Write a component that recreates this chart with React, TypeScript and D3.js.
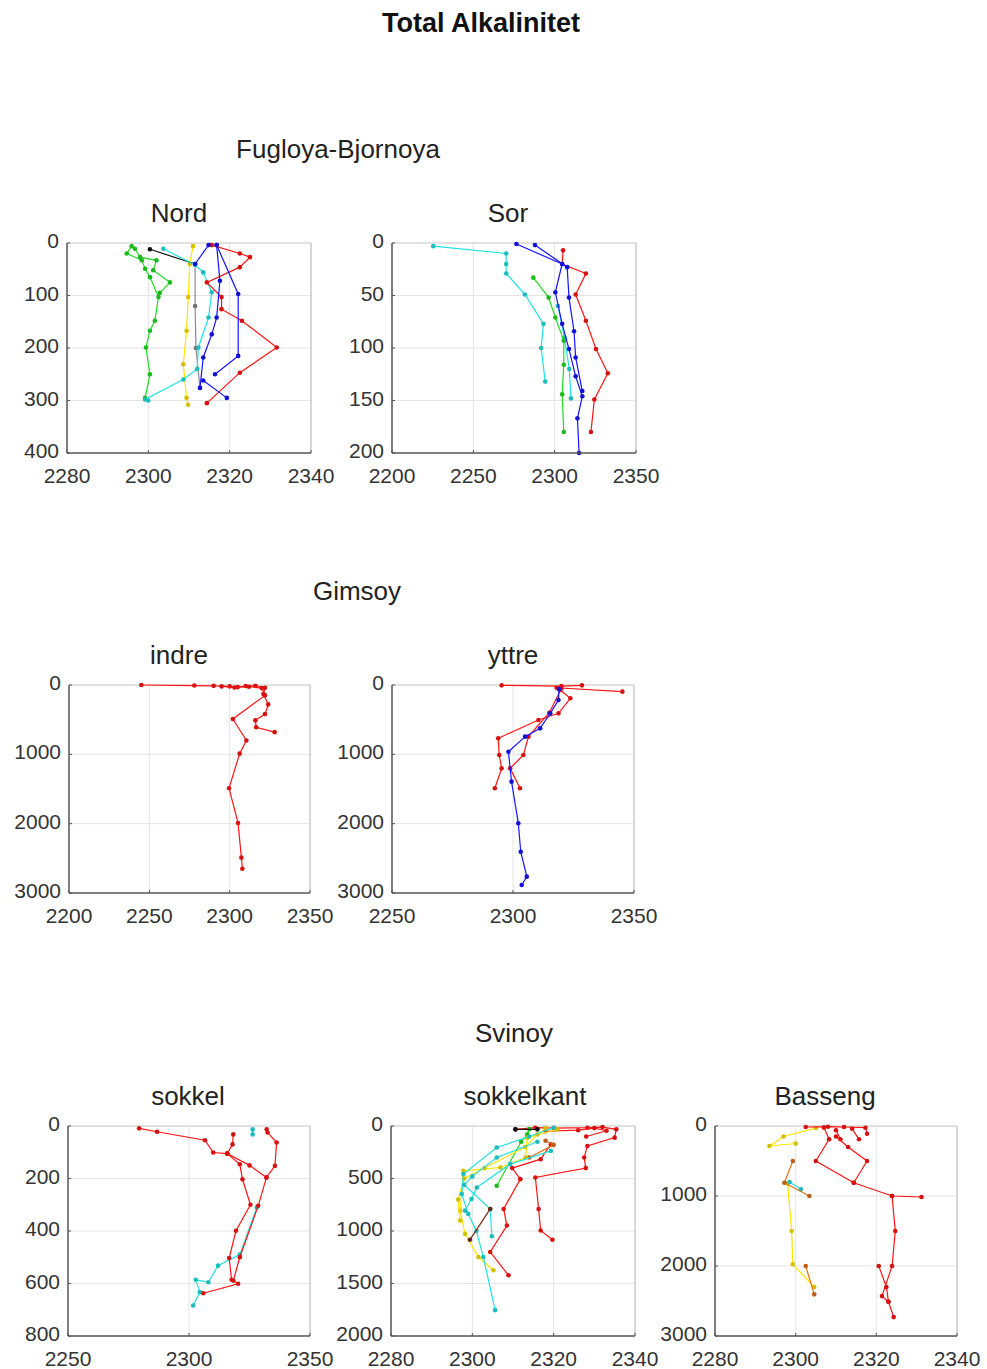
import React from 'react';
import * as d3 from 'd3';

// ---------- data: [alkalinity, depth] ----------
type P = [number, number];

// Fugloya-Bjornoya / Nord
const nordGreen1: P[] = [[2295.9,6],[2294.7,20],[2298.4,33],[2299.2,49],[2300.4,65],[2302.5,103],[2301.6,148],[2300.4,167],[2299.4,199],[2300.4,250],[2299.2,295]];
const nordGreen2: P[] = [[2296.7,11],[2298,27],[2302,33],[2301.2,52],[2305.3,75],[2302.8,95]];
const nordBlack: P[] = [[2300.4,12],[2311.5,40]];
const nordGray: P[] = [[2311.5,40],[2311.5,120],[2311.7,200],[2312.7,276]];
const nordCyan: P[] = [[2303.7,11],[2311.5,42],[2313.5,56],[2315.6,94],[2314.8,142],[2312.3,199],[2312,240],[2308.6,260],[2299.2,298],[2300,300]];
const nordYellow: P[] = [[2311,6],[2310.2,40],[2309.8,103],[2309.4,167],[2308.6,231],[2309.4,295],[2309.8,308]];
const nordBlue1: P[] = [[2314.8,4],[2311.5,40]];
const nordBlue2: P[] = [[2316.8,4],[2317.6,72],[2316.8,142],[2315.6,174],[2313.5,218],[2312.7,276]];
const nordBlue3: P[] = [[2316.8,4],[2322.1,97],[2322.1,215],[2316.4,250]];
const nordBlue4: P[] = [[2313.5,262],[2319.3,295]];
const nordRed: P[] = [[2315.6,4],[2322.5,20],[2325,27],[2322.5,46],[2314.4,75],[2318,103],[2318,126],[2323,148],[2331.6,199],[2322.5,247],[2314.4,305]];

// Fugloya-Bjornoya / Sor
const sorCyan1: P[] = [[2225.4,3],[2270.2,10],[2270.2,20],[2270.2,29],[2281.7,49],[2293.1,77],[2291.7,100],[2294.2,132]];
const sorCyan2: P[] = [[2302,60],[2306,90],[2309,120],[2310,148]];
const sorGreen: P[] = [[2286.9,33],[2296.3,52],[2300.4,71],[2305.6,93],[2305.6,116],[2304.6,144],[2305.6,180]];
const sorBlue1: P[] = [[2276.5,1],[2304.6,20],[2300.4,47],[2304.6,77],[2308.8,101],[2312.9,127],[2317,146],[2314,167],[2315,200]];
const sorBlue2: P[] = [[2287.9,2],[2307.7,23],[2308.8,52],[2311.9,84],[2312.9,109],[2317,141]];
const sorRed: P[] = [[2305.2,7],[2304.6,20],[2319.2,29],[2312.9,49],[2319.2,74],[2325.4,101],[2332.7,124],[2324.4,149],[2322.3,180]];

// Gimsoy / indre
const indreRed1: P[] = [[2245,0],[2278,8],[2290,12],[2300,20],[2305,30],[2310,15],[2316,10],[2322,40],[2321,130],[2324,280],[2322,420],[2316,510],[2316.5,610],[2328,680]];
const indreRed2: P[] = [[2295,20],[2303,35],[2312,25],[2320,45],[2322,150],[2302,490],[2310.4,800],[2306.2,990],[2299.6,1490],[2305.2,1990],[2307.3,2490],[2307.9,2650]];

// Gimsoy / yttre
const yttreRed1: P[] = [[2295.3,5],[2320,15],[2328.5,5]];
const yttreRed2: P[] = [[2318,40],[2345.2,96]];
const yttreRed3: P[] = [[2319.5,72],[2323.7,192],[2318.8,409],[2310.5,505],[2293.9,769],[2294.3,1010],[2295.3,1202],[2292.5,1490]];
const yttreRed4: P[] = [[2320,50],[2315,400],[2306.4,745],[2304.3,1010],[2298.8,1202],[2302.9,1490]];
const yttreBlue: P[] = [[2319,60],[2318.8,216],[2315.4,409],[2311.2,625],[2305,745],[2298.1,962],[2299.4,1394],[2302.2,1995],[2303.2,2404],[2305.7,2764],[2303.6,2885]];

// Svinoy / sokkel
const sokkelRed1: P[] = [[2279.4,9],[2286.8,22],[2306.6,54],[2310,101],[2315.8,105],[2321,146],[2322.1,203],[2325.4,300],[2319.4,399],[2316.6,503],[2317.6,586],[2320.3,601],[2305.9,637]];
const sokkelRed2: P[] = [[2318.3,32],[2318,70],[2315.8,105]];
const sokkelRed3: P[] = [[2332.1,13],[2332.5,25],[2336.2,63],[2335.5,152],[2332,196],[2328.6,304],[2321,500],[2318.3,589]];
const sokkelRed4: P[] = [[2315.8,105],[2325,150],[2332,196]];
const sokkelCyan1: P[] = [[2326.3,13],[2326.3,32]];
const sokkelCyan2: P[] = [[2328,310],[2321,490],[2312,532],[2308,595],[2302.8,586],[2304.5,633],[2301.7,684]];

// Svinoy / sokkelkant
const kantRed1: P[] = [[2310.6,32],[2315.5,16],[2320,20],[2328.3,16],[2332,10],[2335.4,32],[2335,111],[2328.3,190],[2327.5,300],[2327.9,401],[2315.5,490],[2316.3,790],[2316.8,995],[2319.7,1084]];
const kantRed2: P[] = [[2319.3,174],[2316.8,316],[2309.8,401],[2311.8,506],[2307.7,790],[2308.5,948],[2304.4,1200],[2308.9,1422]];
const kantRed3: P[] = [[2318,50],[2326,40],[2330,20],[2333,45],[2328,100]];
const kantCyan1: P[] = [[2320,16],[2314,100],[2306,205],[2297.8,458],[2297.4,648],[2299,837],[2301,1000],[2302.7,1248],[2305.6,1754]];
const kantCyan2: P[] = [[2319.3,237],[2309.3,363],[2301.1,585],[2299.8,695],[2298.2,806]];
const kantCyan3: P[] = [[2316,150],[2306,300],[2300,480],[2298,560],[2304.4,790],[2304.8,1050]];
const kantYellow1: P[] = [[2320.9,32],[2313.5,111],[2313.1,300],[2306.9,395],[2297.8,427],[2297,806],[2298.2,1027],[2301.5,1248],[2305.2,1374]];
const kantYellow2: P[] = [[2318,20],[2316,80],[2313,200],[2303,400],[2298,500],[2296.5,700],[2297,900]];
const kantGreen: P[] = [[2314,30],[2313.5,80],[2312,150],[2306,569]];
const kantBlack: P[] = [[2310.6,32],[2316,32]];
const kantOrange: P[] = [[2318,140],[2320,180],[2314,300]];
const kantDark: P[] = [[2299.4,1084],[2304.4,790]];

// Svinoy / Basseng
const basRed1: P[] = [[2302.5,14],[2308,10],[2312,14],[2317.3,24],[2317.7,110]];
const basRed2: P[] = [[2307,20],[2308.3,190],[2305,500],[2314.4,810],[2323.9,1000],[2331.2,1014]];
const basRed3: P[] = [[2310,60],[2311.1,190]];
const basRed4: P[] = [[2314,40],[2315.7,190]];
const basRedLoop: P[] = [[2314.4,810],[2317.7,500],[2313,300],[2310,150]];
const basRed5: P[] = [[2323.9,1000],[2324.7,1500],[2323.9,2000],[2321.4,2430],[2323,2510],[2324.3,2730]];
const basRed6: P[] = [[2320.6,2000],[2322.5,2300],[2323,2510]];
const basOrange1: P[] = [[2299.3,500],[2297.2,810],[2303.4,1000]];
const basOrange2: P[] = [[2302.5,2000],[2304.6,2405]];
const basYellow1: P[] = [[2305,30],[2297,150],[2293.5,286],[2300,250]];
const basYellow2: P[] = [[2298,820],[2299,1500],[2299.3,1976],[2304.6,2300]];
const basCyan: P[] = [[2298.5,800],[2301.3,905]];

// axis ticks
const ticks2280 = [2280, 2300, 2320, 2340];
const ticks2200 = [2200, 2250, 2300, 2350];
const ticks2250 = [2250, 2300, 2350];
const depth400 = [0, 100, 200, 300, 400];
const depth200 = [0, 50, 100, 150, 200];
const depth3000 = [0, 1000, 2000, 3000];
const depth800 = [0, 200, 400, 600, 800];
const depth2000 = [0, 500, 1000, 1500, 2000];

// ---------- styles ----------
const FONT = '"Liberation Sans", Arial, Helvetica, sans-serif';
const COL: Record<string, string> = {
  r: '#ff1414', b: '#1414ff', g: '#22dd22', c: '#22e2e2', y: '#ffe600',
  k: '#111111', gray: '#8a8a8a', o: '#e0701c', d: '#7a2a10',
};

type S = { c: string; d: P[] };
type Panel = {
  title: string; titleX: number; left: number; right: number; top: number; bottom: number;
  xTicks: number[]; yTicks: number[]; series: S[];
};

const panels: Panel[] = [
  { title: 'Nord', titleX: 179, left: 67, right: 311, top: 243, bottom: 453, xTicks: ticks2280, yTicks: depth400,
    series: [
      { c: 'g', d: nordGreen1 }, { c: 'g', d: nordGreen2 }, { c: 'y', d: nordYellow }, { c: 'gray', d: nordGray },
      { c: 'k', d: nordBlack }, { c: 'c', d: nordCyan }, { c: 'r', d: nordRed },
      { c: 'b', d: nordBlue1 }, { c: 'b', d: nordBlue2 }, { c: 'b', d: nordBlue3 }, { c: 'b', d: nordBlue4 },
    ] },
  { title: 'Sor', titleX: 508, left: 392, right: 636, top: 243, bottom: 453, xTicks: ticks2200, yTicks: depth200,
    series: [
      { c: 'c', d: sorCyan1 }, { c: 'c', d: sorCyan2 }, { c: 'g', d: sorGreen }, { c: 'r', d: sorRed },
      { c: 'b', d: sorBlue1 }, { c: 'b', d: sorBlue2 },
    ] },
  { title: 'indre', titleX: 179, left: 69, right: 310, top: 685, bottom: 893, xTicks: ticks2200, yTicks: depth3000,
    series: [{ c: 'r', d: indreRed1 }, { c: 'r', d: indreRed2 }] },
  { title: 'yttre', titleX: 513, left: 392, right: 634, top: 685, bottom: 893, xTicks: ticks2250, yTicks: depth3000,
    series: [
      { c: 'r', d: yttreRed1 }, { c: 'r', d: yttreRed2 }, { c: 'r', d: yttreRed3 }, { c: 'r', d: yttreRed4 },
      { c: 'b', d: yttreBlue },
    ] },
  { title: 'sokkel', titleX: 188, left: 68, right: 310, top: 1126, bottom: 1336, xTicks: ticks2250, yTicks: depth800,
    series: [
      { c: 'c', d: sokkelCyan1 }, { c: 'c', d: sokkelCyan2 },
      { c: 'r', d: sokkelRed1 }, { c: 'r', d: sokkelRed2 }, { c: 'r', d: sokkelRed3 }, { c: 'r', d: sokkelRed4 },
    ] },
  { title: 'sokkelkant', titleX: 525, left: 391, right: 635, top: 1126, bottom: 1336, xTicks: ticks2280, yTicks: depth2000,
    series: [
      { c: 'r', d: kantRed1 }, { c: 'r', d: kantRed2 }, { c: 'r', d: kantRed3 }, { c: 'o', d: kantOrange },
      { c: 'g', d: kantGreen }, { c: 'y', d: kantYellow1 }, { c: 'y', d: kantYellow2 },
      { c: 'c', d: kantCyan1 }, { c: 'c', d: kantCyan2 }, { c: 'c', d: kantCyan3 },
      { c: 'k', d: kantBlack }, { c: 'd', d: kantDark },
    ] },
  { title: 'Basseng', titleX: 825, left: 715, right: 957, top: 1126, bottom: 1336, xTicks: ticks2280, yTicks: depth3000,
    series: [
      { c: 'y', d: basYellow1 }, { c: 'y', d: basYellow2 }, { c: 'c', d: basCyan },
      { c: 'o', d: basOrange1 }, { c: 'o', d: basOrange2 },
      { c: 'r', d: basRed1 }, { c: 'r', d: basRed2 }, { c: 'r', d: basRed3 }, { c: 'r', d: basRed4 },
      { c: 'r', d: basRedLoop }, { c: 'r', d: basRed5 }, { c: 'r', d: basRed6 },
    ] },
];

const groupTitles = [
  { text: 'Fugloya-Bjornoya', x: 338, y: 158 },
  { text: 'Gimsoy', x: 357, y: 600 },
  { text: 'Svinoy', x: 514, y: 1042 },
];

function PanelView({ p }: { p: Panel }) {
  const x = d3.scaleLinear().domain([p.xTicks[0], p.xTicks[p.xTicks.length - 1]]).range([p.left, p.right]);
  const y = d3.scaleLinear().domain([p.yTicks[0], p.yTicks[p.yTicks.length - 1]]).range([p.top, p.bottom]);
  const line = d3.line<P>().x((d) => x(d[0])).y((d) => y(d[1]));
  return (
    <g>
      {/* grid */}
      {p.xTicks.slice(1, -1).map((t) => (
        <line key={'gx' + t} x1={x(t)} x2={x(t)} y1={p.top} y2={p.bottom} stroke="#e4e4e4" strokeWidth={1} />
      ))}
      {p.yTicks.slice(1, -1).map((t) => (
        <line key={'gy' + t} x1={p.left} x2={p.right} y1={y(t)} y2={y(t)} stroke="#e4e4e4" strokeWidth={1} />
      ))}
      {/* box */}
      <line x1={p.left} x2={p.right} y1={p.top} y2={p.top} stroke="#c4c4c4" strokeWidth={1} />
      <line x1={p.right} x2={p.right} y1={p.top} y2={p.bottom} stroke="#b0b0b0" strokeWidth={1} />
      {/* data */}
      {p.series.map((s, i) => {
        const col = COL[s.c];
        const mk = d3.color(col)!.darker(0.5).formatHex();
        return (
          <g key={i}>
            <path d={line(s.d) || ''} fill="none" stroke={col} strokeWidth={1.2} />
            {s.d.map((pt, j) => (
              <circle key={j} cx={x(pt[0])} cy={y(pt[1])} r={2.3} fill={mk} />
            ))}
          </g>
        );
      })}
      {/* axes */}
      <line x1={p.left} x2={p.left} y1={p.top} y2={p.bottom} stroke="#555" strokeWidth={1.5} />
      <line x1={p.left} x2={p.right} y1={p.bottom} y2={p.bottom} stroke="#555" strokeWidth={1.5} />
      {p.xTicks.map((t) => (
        <g key={'tx' + t}>
          <line x1={x(t)} x2={x(t)} y1={p.bottom} y2={p.bottom - 3} stroke="#555" />
          <text x={x(t)} y={p.bottom + 30} textAnchor="middle" fontSize={21} fill="#333" fontFamily={FONT}>{t}</text>
        </g>
      ))}
      {p.yTicks.map((t) => (
        <g key={'ty' + t}>
          <line x1={p.left} x2={p.left + 3} y1={y(t)} y2={y(t)} stroke="#555" />
          <text x={p.left - 8} y={y(t) + 5} textAnchor="end" fontSize={21} fill="#333" fontFamily={FONT}>{t}</text>
        </g>
      ))}
      <text x={p.titleX} y={p.top - 21} textAnchor="middle" fontSize={26} fill="#222" fontFamily={FONT}>{p.title}</text>
    </g>
  );
}

export default function App() {
  return (
    <svg width={987} height={1369} style={{ position: 'absolute', left: 0, top: 0, background: '#fff' }}>
      <rect width={987} height={1369} fill="#fff" />
      <text x={481} y={32} textAnchor="middle" fontSize={27} fontWeight="bold" fill="#111" fontFamily={FONT}>Total Alkalinitet</text>
      {groupTitles.map((g) => (
        <text key={g.text} x={g.x} y={g.y} textAnchor="middle" fontSize={26} fill="#222" fontFamily={FONT}>{g.text}</text>
      ))}
      {panels.map((p) => <PanelView key={p.title} p={p} />)}
    </svg>
  );
}
